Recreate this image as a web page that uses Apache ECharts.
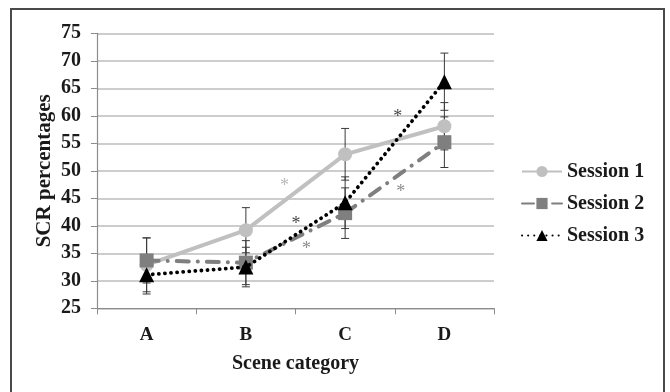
<!DOCTYPE html>
<html>
<head>
<meta charset="utf-8">
<script src="https://cdn.jsdelivr.net/npm/echarts@6/dist/echarts.min.js"></script>
<style>
html,body{margin:0;padding:0;background:#fff;}
#chart{width:670px;height:392px;}
</style>
</head>
<body>
<div id="chart"></div>
<script>
var categories = ['A', 'B', 'C', 'D'];
var yTicks = [25, 30, 35, 40, 45, 50, 55, 60, 65, 70, 75];
var session1 = [32.9, 39.2, 53.0, 58.1];
var session2 = [33.7, 33.3, 42.3, 55.2];
var session3 = [31.1, 32.5, 44.2, 66.2];
var session1Err = [4.9, 4.1, 4.7, 4.3];
var session2Err = [4.1, 4.0, 4.6, 4.6];
var session3Err = [3.5, 3.6, 4.7, 5.2];
// asterisk annotations: position in category units (0 = left edge) and value
var star1X = [1.89];
var star1Y = [47.9];
var star2X = [2.11, 3.06];
var star2Y = [36.5, 46.9];
var star3X = [2.005, 3.03];
var star3Y = [41.0, 60.4];

var c1 = '#c0c0c0', c2 = '#7f7f7f', c3 = '#000000';
var fontFam = '"Liberation Serif", "Times New Roman", serif';

function errData(vals, errs) {
  return vals.map(function (v, i) { return [i, v - errs[i], v + errs[i]]; });
}
function errSeries(name, vals, errs) {
  return {
    type: 'custom', name: name + ' err', xAxisIndex: 0, yAxisIndex: 0, z: 1,
    silent: true,
    data: errData(vals, errs),
    renderItem: function (params, api) {
      var lo = api.coord([api.value(0), api.value(1)]);
      var hi = api.coord([api.value(0), api.value(2)]);
      var w = 4;
      var st = { stroke: '#3a3a3a', lineWidth: 1 };
      return {
        type: 'group',
        children: [
          { type: 'line', shape: { x1: lo[0], y1: lo[1], x2: hi[0], y2: hi[1] }, style: st },
          { type: 'line', shape: { x1: lo[0] - w, y1: lo[1], x2: lo[0] + w, y2: lo[1] }, style: st },
          { type: 'line', shape: { x1: hi[0] - w, y1: hi[1], x2: hi[0] + w, y2: hi[1] }, style: st }
        ]
      };
    }
  };
}
function starSeries(xs, ys, color) {
  return {
    type: 'scatter', xAxisIndex: 1, yAxisIndex: 0, symbolSize: 0, silent: true, z: 6,
    data: xs.map(function (x, i) { return [x, ys[i]]; }),
    label: {
      show: true, position: 'inside', formatter: '*', color: color,
      fontFamily: fontFam, fontSize: 18, offset: [0, 4]
    }
  };
}

var chart = echarts.init(document.getElementById('chart'));
chart.setOption({
  animation: false,
  backgroundColor: '#fff',
  graphic: [{
    type: 'rect', shape: { x: 11, y: 9, width: 653, height: 400 },
    style: { fill: 'none', stroke: '#4a4a4a', lineWidth: 2 }, silent: true
  }],
  grid: { left: 97, top: 33.3, width: 397, height: 275, containLabel: false },
  legend: {
    orient: 'vertical', left: 516, top: 156, itemGap: 11,
    itemWidth: 40, itemHeight: 14,
    textStyle: { fontFamily: fontFam, fontWeight: 'bold', fontSize: 20, lineHeight: 21, color: '#1a1a1a' },
    data: ['Session 1', 'Session 2', 'Session 3']
  },
  xAxis: [{
    type: 'category', data: categories, boundaryGap: true,
    axisLine: { lineStyle: { color: '#8c8c8c', width: 1.2 } },
    axisTick: { show: true, length: 6, inside: false, lineStyle: { color: '#8c8c8c' } },
    axisLabel: { fontFamily: fontFam, fontWeight: 'bold', fontSize: 19, color: '#1a1a1a', margin: 17 },
    name: 'Scene category', nameLocation: 'middle', nameGap: 46,
    nameTextStyle: { fontFamily: fontFam, fontWeight: 'bold', fontSize: 20, color: '#1a1a1a' }
  }, {
    type: 'value', min: 0, max: 4, show: false
  }],
  yAxis: {
    type: 'value', min: yTicks[0], max: yTicks[yTicks.length - 1], interval: 5,
    axisLine: { show: true, lineStyle: { color: '#8c8c8c', width: 1.2 } },
    axisTick: { show: true, length: 6, lineStyle: { color: '#8c8c8c' } },
    splitLine: { show: true, lineStyle: { color: '#bdbdbd', width: 1.5 } },
    axisLabel: { fontFamily: fontFam, fontWeight: 'bold', fontSize: 20, color: '#1a1a1a', margin: 16 },
    name: 'SCR percentages', nameLocation: 'middle', nameGap: 42, nameRotate: 90,
    nameMoveOverlap: false,
    nameTextStyle: { fontFamily: fontFam, fontWeight: 'bold', fontSize: 21, color: '#1a1a1a' }
  },
  series: [
    errSeries('Session 1', session1, session1Err),
    errSeries('Session 2', session2, session2Err),
    errSeries('Session 3', session3, session3Err),
    {
      name: 'Session 1', type: 'line', data: session1, z: 3,
      symbol: 'circle', symbolSize: 14, showSymbol: true,
      itemStyle: { color: c1 },
      lineStyle: { color: c1, width: 4 }
    },
    {
      name: 'Session 2', type: 'line', data: session2, z: 4,
      symbol: 'rect', symbolSize: 14,
      itemStyle: { color: c2 },
      lineStyle: { color: c2, width: 4, type: [12, 9, 0.1, 9], cap: 'round' }
    },
    {
      name: 'Session 3', type: 'line', data: session3, z: 5,
      symbol: 'triangle', symbolSize: 15,
      itemStyle: { color: c3 },
      lineStyle: { color: c3, width: 3.8, type: [0.1, 6], cap: 'round' }
    },
    starSeries(star1X, star1Y, '#a8a8a8'),
    starSeries(star2X, star2Y, '#6e6e6e'),
    starSeries(star3X, star3Y, '#111111')
  ]
});
</script>
</body>
</html>
